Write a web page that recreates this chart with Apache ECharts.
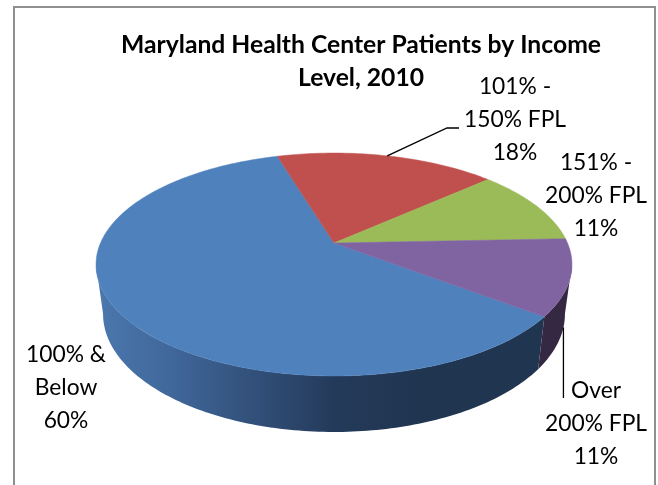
<!DOCTYPE html>
<html>
<head>
<meta charset="utf-8">
<title>Maryland Health Center Patients by Income Level, 2010</title>
<script src="https://cdn.jsdelivr.net/npm/echarts@6/dist/echarts.min.js"></script>
<style>
html,body{margin:0;padding:0;background:#fff;}
#main{width:658px;height:485px;}
</style>
</head>
<body>
<div id="main"></div>
<script>
var categories=['100% &\nBelow','101% -\n150% FPL','151% -\n200% FPL','Over\n200% FPL'];
var percents=[60,18,11,11];
var topColors=['#4f81bd','#c0504d','#9bbb59','#8064a2'];
var startAngle=127.3;//first slice starts here, clockwise from 12 o'clock

//perspective of the pie: top face and bottom face
var topFace={cx:334,cy:243,a:233.5,b:107.3};
var bottomFace={cx:334,cy:291.2,a:226.6,b:113.6};
var tilt=0.193;
var frontFrom=101,frontTo=259;//the wall is visible between these angles

//label centres, same order as categories
var labelX=[66,515,596,596];
var labelY=[388,120,196,424];

function project(face,deg){
	var r=deg*Math.PI/180;
	var u=Math.sin(r);
	var v=-Math.cos(r);
	var d=1-tilt*v;
	return [face.cx+face.a*u/d,face.cy+face.b*v/d];
}
function arcPoints(face,from,to){
	var pts=[];
	var n=Math.max(2,Math.ceil(Math.abs(to-from)));
	for(var i=0;i<=n;i++){
		pts.push(project(face,from+(to-from)*i/n));
	}
	return pts;
}
function wallFill(index){
	if(index===0){
		return new echarts.graphic.LinearGradient(96,0,572,0,[
			{offset:0,color:'#4b78ae'},
			{offset:0.16,color:'#40679a'},
			{offset:0.3,color:'#34547f'},
			{offset:0.5,color:'#243a5a'},
			{offset:0.68,color:'#203550'},
			{offset:1,color:'#203550'}
		],true);
	}
	return '#352843';
}
function sliceStart(index){
	var sum=0;
	for(var i=0;i<index;i++){sum+=percents[i];}
	return startAngle+sum*3.6;
}
function renderSlice(params,api){
	var i=params.dataIndex;
	var from=sliceStart(i);
	var to=from+api.value(0)*3.6;
	var children=[];
	//outer wall, only the front part of the rim
	var shift=from>=360?360:0;
	var wFrom=Math.max(from-shift,frontFrom);
	var wTo=Math.min(to-shift,frontTo);
	if(wFrom<wTo){
		children.push({
			type:'polygon',
			z2:1,
			shape:{points:arcPoints(topFace,wFrom,wTo).concat(arcPoints(bottomFace,wTo,wFrom))},
			style:{fill:wallFill(i)}
		});
	}
	//top face
	children.push({
		type:'polygon',
		z2:2,
		shape:{points:[[topFace.cx,topFace.cy]].concat(arcPoints(topFace,from,to))},
		style:{fill:topColors[i],stroke:topColors[i],lineWidth:0.5}
	});
	//label
	children.push({
		type:'text',
		z2:5,
		style:{
			x:labelX[i],
			y:labelY[i],
			text:categories[i]+'\n'+api.value(0)+'%',
			align:'center',
			verticalAlign:'middle',
			fontFamily:'Lato',
			fontSize:22.8,
			lineHeight:33,
			fill:'#000'
		}
	});
	return {type:'group',children:children};
}

//leader lines start on the rim at the middle of their slice
var mid1=sliceStart(1)+percents[1]*1.8;
var mid3=sliceStart(3)+percents[3]*1.8;
var a1=project(topFace,mid1);
var a3=project(bottomFace,mid3);

var myChart=echarts.init(document.getElementById('main'),null,{renderer:'canvas'});
var option={
	animation:false,
	backgroundColor:'#fff',
	title:{
		text:'Maryland Health Center Patients by Income\nLevel, 2010',
		left:356,
		top:24,
		textAlign:'center',
		textStyle:{fontFamily:'Lato',fontSize:24.7,fontWeight:'bold',color:'#000',lineHeight:33}
	},
	graphic:[
		{type:'rect',shape:{x:14,y:7,width:641,height:500},style:{fill:'none',stroke:'#8f8f8f',lineWidth:2},silent:true},
		{type:'polyline',z:10,shape:{points:[a1,[447,128],[459,128]]},style:{fill:'none',stroke:'#000',lineWidth:1.3}},
		{type:'polyline',z:10,shape:{points:[a3,[a3[0],398]]},style:{fill:'none',stroke:'#000',lineWidth:1.3}}
	],
	series:[{
		type:'custom',
		coordinateSystem:'none',
		renderItem:renderSlice,
		data:percents.map(function(p){return [p];}),
		silent:true
	}]
};
myChart.setOption(option);
</script>
</body>
</html>
